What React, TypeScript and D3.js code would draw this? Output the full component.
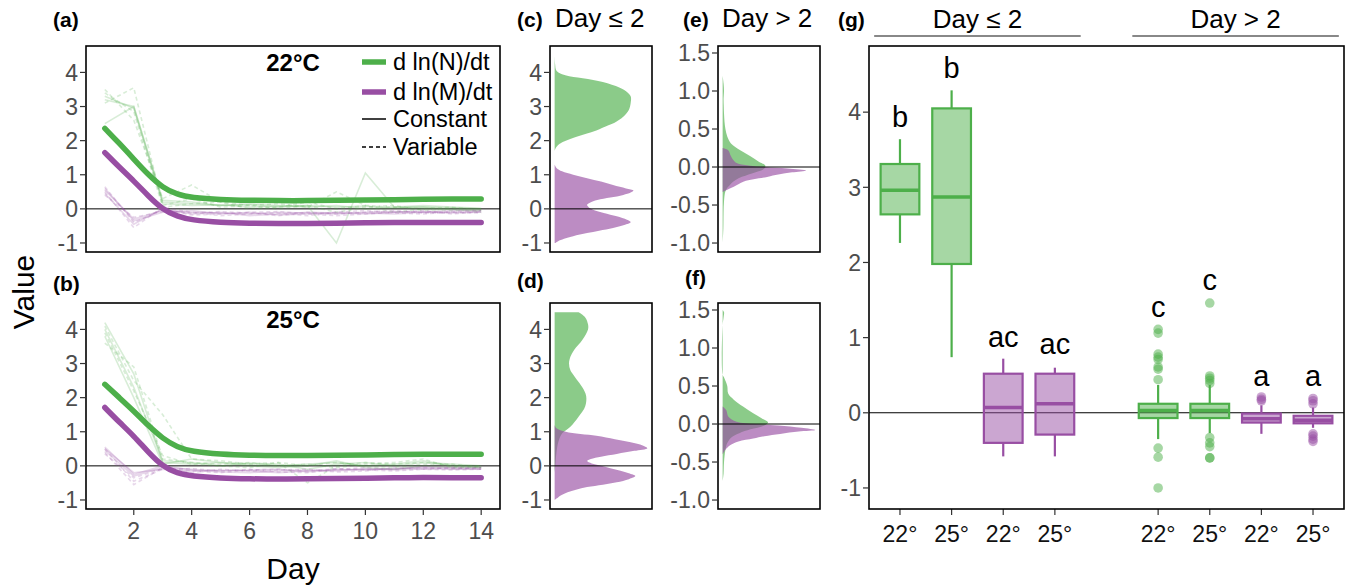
import React from 'react';
import * as d3 from 'd3';

// ---------------- DATA ----------------
const DAYS = [1, 2, 3, 4, 5, 6, 7, 8, 9, 10, 11, 12, 13, 14];
const SMOOTH_DAYS = [1, 1.5, 2, 2.5, 3, 3.5, 4, 5, 6, 7, 8, 9, 10, 11, 12, 13, 14];

// smooth fits
const FIT_N_22 = [2.36, 1.92, 1.46, 1.0, 0.62, 0.42, 0.33, 0.27, 0.25, 0.24, 0.24, 0.25, 0.26, 0.27, 0.28, 0.29, 0.29];
const FIT_M_22 = [1.65, 1.22, 0.82, 0.38, -0.02, -0.22, -0.33, -0.4, -0.42, -0.43, -0.43, -0.42, -0.41, -0.4, -0.4, -0.4, -0.4];
const FIT_N_25 = [2.39, 2.0, 1.61, 1.18, 0.8, 0.55, 0.42, 0.34, 0.31, 0.3, 0.3, 0.31, 0.32, 0.33, 0.34, 0.34, 0.34];
const FIT_M_25 = [1.71, 1.28, 0.88, 0.4, -0.02, -0.22, -0.3, -0.36, -0.38, -0.39, -0.38, -0.37, -0.36, -0.35, -0.34, -0.35, -0.35];

// individual replicate lines (days 1..14)
const N22_LINES = [
  [3.3, 2.95, 0.15, 0.1, 0.12, 0.05, 0.08, 0.1, 0.05, 0.08, 0.02, 0.05, 0.03, 0.0],
  [3.2, 3.0, 0.2, 0.15, 0.1, 0.12, 0.05, 0.1, -1.0, 1.05, 0.05, 0.05, -0.02, -0.05],
  [2.5, 3.0, 0.25, 0.2, 0.1, 0.15, 0.1, 0.05, 0.1, 0.0, 0.05, 0.1, 0.05, 0.02],
  [3.5, 2.6, 0.3, 0.7, 0.2, 0.1, 0.15, 0.05, 0.5, 0.1, 0.05, 0.0, -0.05, -0.02],
  [3.1, 3.55, 0.1, 0.3, 0.05, 0.1, 0.0, 0.1, -0.1, 0.05, 0.1, -0.05, 0.0, -0.1],
  [3.4, 2.85, 0.05, 0.15, 0.2, 0.0, 0.05, 0.2, 0.0, 0.1, -0.1, 0.0, 0.05, -0.05],
];
const M22_LINES = [
  [0.55, -0.3, -0.05, -0.1, -0.12, -0.15, -0.1, -0.12, -0.15, -0.1, -0.08, -0.1, -0.05, -0.05],
  [0.45, -0.45, 0.0, -0.15, -0.1, -0.2, -0.15, -0.1, -0.12, -0.15, -0.1, -0.08, -0.1, -0.08],
  [0.6, -0.35, -0.1, -0.05, -0.15, -0.1, -0.18, -0.15, -0.1, -0.12, -0.15, -0.1, -0.12, -0.1],
  [0.5, -0.55, 0.05, -0.1, -0.2, -0.15, -0.12, -0.2, -0.1, -0.05, -0.12, -0.15, -0.08, -0.05],
  [0.4, -0.25, -0.08, -0.12, -0.08, -0.12, -0.2, -0.1, -0.15, -0.1, -0.05, -0.12, -0.1, -0.12],
  [0.65, -0.4, -0.02, -0.18, -0.15, -0.1, -0.08, -0.15, -0.2, -0.15, -0.1, -0.05, -0.15, -0.08],
];
const N25_LINES = [
  [4.2, 2.7, 0.1, 0.05, 0.1, 0.05, 0.0, 0.05, 0.1, 0.0, 0.05, 0.15, 0.0, -0.05],
  [4.0, 2.3, 0.15, 0.1, 0.0, 0.08, 0.05, -0.1, 0.05, 0.1, 0.0, 0.1, 0.05, 0.0],
  [3.8, 2.0, 0.05, 0.2, 0.1, 0.0, -0.05, 0.0, 0.15, -0.05, -0.1, 0.0, -0.05, -0.05],
  [4.1, 2.5, 1.5, 0.2, 0.15, 0.05, 0.1, -0.5, 0.0, 0.1, 0.05, 0.1, 0.0, 0.0],
  [3.6, 2.9, 0.2, 0.1, 0.05, 0.1, 0.0, 0.05, -0.05, 0.05, 0.1, 0.2, -0.05, -0.02],
  [3.9, 2.2, 0.3, 0.05, 0.0, -0.05, 0.1, 0.0, 0.1, 0.0, -0.05, 0.05, 0.05, -0.05],
];
const M25_LINES = [
  [0.5, -0.2, -0.1, -0.15, -0.12, -0.15, -0.2, -0.15, -0.1, -0.12, -0.08, -0.05, -0.08, -0.1],
  [0.45, -0.3, -0.05, -0.1, -0.15, -0.12, -0.1, -0.18, -0.12, -0.1, -0.1, -0.02, -0.05, -0.05],
  [0.55, -0.25, 0.0, -0.12, -0.18, -0.2, -0.15, -0.12, -0.15, -0.08, -0.12, -0.08, -0.1, -0.08],
  [0.4, -0.55, -0.05, -0.2, -0.1, -0.15, -0.12, -0.1, -0.18, -0.15, -0.05, -0.1, -0.12, -0.1],
  [0.5, -0.45, -0.1, -0.08, -0.15, -0.1, -0.18, -0.2, -0.1, -0.05, -0.1, -0.05, -0.08, -0.05],
  [0.35, -0.35, -0.08, -0.15, -0.2, -0.12, -0.1, -0.15, -0.08, -0.12, -0.15, -0.1, -0.05, -0.1],
];
const LINE_DASHED = [false, false, false, true, true, true];

// densities: [value, relative density]
const DENS_C_N = [[4.5, 0], [4.25, 0.005], [4.05, 0.02], [3.95, 0.08], [3.85, 0.25], [3.75, 0.47], [3.6, 0.66], [3.45, 0.77], [3.3, 0.82], [3.1, 0.82], [2.9, 0.8], [2.7, 0.74], [2.55, 0.66], [2.45, 0.58], [2.3, 0.45], [2.2, 0.34], [2.1, 0.22], [2.0, 0.12], [1.9, 0.05], [1.8, 0.015], [1.7, 0]];
const DENS_C_M = [[1.3, 0], [1.2, 0.02], [1.1, 0.08], [1.0, 0.2], [0.9, 0.35], [0.8, 0.5], [0.7, 0.63], [0.6, 0.77], [0.54, 0.85], [0.48, 0.82], [0.41, 0.74], [0.33, 0.6], [0.26, 0.46], [0.18, 0.38], [0.12, 0.35], [0.04, 0.37], [-0.03, 0.42], [-0.12, 0.53], [-0.22, 0.67], [-0.32, 0.78], [-0.39, 0.82], [-0.47, 0.75], [-0.56, 0.63], [-0.64, 0.48], [-0.71, 0.35], [-0.8, 0.2], [-0.86, 0.12], [-0.93, 0.05], [-1.0, 0.01]];
const DENS_D_N = [[4.5, 0.26], [4.35, 0.33], [4.15, 0.36], [4.0, 0.36], [3.7, 0.3], [3.4, 0.21], [3.2, 0.17], [3.0, 0.155], [2.8, 0.17], [2.6, 0.22], [2.3, 0.3], [2.05, 0.34], [1.75, 0.33], [1.45, 0.26], [1.15, 0.17], [0.95, 0.08], [0.7, 0.04], [0.4, 0.02], [0.1, 0.01], [-0.2, 0]];
const DENS_D_M = [[1.2, 0], [1.1, 0.02], [1.0, 0.12], [0.88, 0.45], [0.78, 0.65], [0.69, 0.82], [0.6, 0.95], [0.52, 1.0], [0.44, 0.86], [0.35, 0.67], [0.27, 0.5], [0.2, 0.39], [0.14, 0.35], [0.07, 0.4], [0.01, 0.49], [-0.07, 0.6], [-0.14, 0.71], [-0.22, 0.8], [-0.3, 0.87], [-0.39, 0.8], [-0.48, 0.67], [-0.55, 0.52], [-0.62, 0.35], [-0.7, 0.23], [-0.77, 0.14], [-0.86, 0.07], [-0.96, 0.02], [-1.0, 0]];
const DENS_E_N = [[1.2, 0], [1.1, 0.01], [1.0, 0.015], [0.9, 0.01], [0.8, 0.012], [0.7, 0.015], [0.6, 0.02], [0.5, 0.03], [0.4, 0.05], [0.31, 0.09], [0.22, 0.19], [0.14, 0.3], [0.07, 0.39], [0.02, 0.46], [-0.02, 0.45], [-0.06, 0.38], [-0.1, 0.28], [-0.17, 0.14], [-0.26, 0.06], [-0.32, 0.03], [-0.45, 0.015], [-0.6, 0.01], [-0.8, 0.008], [-1.0, 0]];
const DENS_E_M = [[0.25, 0], [0.22, 0.06], [0.14, 0.09], [0.06, 0.14], [0.02, 0.28], [0.0, 0.45], [-0.02, 0.7], [-0.045, 0.9], [-0.07, 0.75], [-0.1, 0.6], [-0.13, 0.48], [-0.19, 0.23], [-0.26, 0.12], [-0.3, 0.05], [-0.33, 0]];
const DENS_F_N = [[1.5, 0], [1.47, 0.015], [1.4, 0.01], [1.3, 0], [0.65, 0], [0.6, 0.02], [0.5, 0.05], [0.4, 0.06], [0.32, 0.12], [0.23, 0.22], [0.14, 0.33], [0.075, 0.42], [0.02, 0.49], [-0.02, 0.45], [-0.07, 0.3], [-0.12, 0.18], [-0.17, 0.1], [-0.25, 0.05], [-0.34, 0.03], [-0.5, 0.015], [-0.65, 0.01], [-0.75, 0]];
const DENS_F_M = [[0.23, 0], [0.18, 0.04], [0.1, 0.06], [0.03, 0.15], [0.0, 0.35], [-0.02, 0.6], [-0.05, 0.85], [-0.08, 1.0], [-0.1, 0.82], [-0.13, 0.62], [-0.16, 0.45], [-0.19, 0.33], [-0.23, 0.17], [-0.28, 0.08], [-0.34, 0.03], [-0.4, 0]];

// box plots (panel g)
const BOX_POS = [1, 2, 3, 4, 6, 7, 8, 9];
const BOX_GROUP = ['N', 'N', 'M', 'M', 'N', 'N', 'M', 'M'];
const BOX_LOW = [2.26, 0.74, -0.58, -0.58, -0.35, -0.27, -0.28, -0.2];
const BOX_Q1 = [2.64, 1.98, -0.4, -0.29, -0.07, -0.07, -0.13, -0.14];
const BOX_MED = [2.96, 2.87, 0.07, 0.12, 0.03, 0.03, -0.08, -0.1];
const BOX_Q3 = [3.31, 4.05, 0.52, 0.52, 0.12, 0.12, -0.01, -0.04];
const BOX_HIGH = [3.64, 4.29, 0.72, 0.6, 0.37, 0.37, 0.1, 0.07];
const BOX_LETTER = ['b', 'b', 'ac', 'ac', 'c', 'c', 'a', 'a'];
const BOX_LETTER_Y = [3.8, 4.46, 0.88, 0.78, 1.27, 1.63, 0.35, 0.35];
const BOX_XLABEL = ['22°', '25°', '22°', '25°', '22°', '25°', '22°', '25°'];
const OUTLIER_POS = [6, 6, 6, 6, 6, 6, 6, 6, 6, 6, 6, 7, 7, 7, 7, 7, 7, 7, 7, 7, 7, 8, 8, 8, 9, 9, 9, 9, 9, 9, 9];
const OUTLIER_VAL = [1.11, 1.06, 0.78, 0.74, 0.71, 0.61, 0.58, 0.44, -0.47, -0.59, -1.0, 1.46, 0.49, 0.46, 0.43, 0.39, -0.33, -0.4, -0.45, -0.6, -0.6, 0.21, 0.18, 0.16, 0.19, 0.16, 0.12, -0.28, -0.31, -0.35, -0.38];
const OUTLIER_GROUP = OUTLIER_POS.map((p) => (p <= 7 ? 'N' : 'M'));

const Y_TICKS_AB = [-1, 0, 1, 2, 3, 4];
const X_TICKS_DAY = [2, 4, 6, 8, 10, 12, 14];
const Y_TICKS_EF = [-1, -0.5, 0, 0.5, 1, 1.5];
const Y_TICK_LABELS_EF = ['-1.0', '-0.5', '0.0', '0.5', '1.0', '1.5'];
const Y_TICKS_G = [-1, 0, 1, 2, 3, 4];

// ---------------- STYLE ----------------
const GREEN = '#4daf4a';
const PURPLE = '#984ea3';
const FONT = 'Liberation Sans, Arial, Helvetica, sans-serif';
const TICK_COLOR = '#4d4d4d';
const TICK_FS = 23;

const PA = { x0: 86, x1: 500, y0: 46, y1: 252 };
const PB = { x0: 86, x1: 500, y0: 303, y1: 509 };
const PC = { x0: 550, x1: 652, y0: 46, y1: 252 };
const PD = { x0: 550, x1: 652, y0: 303, y1: 509 };
const PE = { x0: 718, x1: 820, y0: 46, y1: 252 };
const PF = { x0: 718, x1: 820, y0: 303, y1: 509 };
const PG = { x0: 869, x1: 1344, y0: 46, y1: 509 };

const COL: Record<string, string> = { N: GREEN, M: PURPLE };

function YAxis({ p, scale, ticks, labels }: any) {
  return (
    <g>
      {ticks.map((t: number, i: number) => (
        <g key={i}>
          <line x1={p.x0 - 6} x2={p.x0} y1={scale(t)} y2={scale(t)} stroke="#333" strokeWidth={1.2} />
          <text x={p.x0 - 8} y={scale(t)} dy="0.36em" textAnchor="end" fontSize={TICK_FS} fill={TICK_COLOR} fontFamily={FONT}>
            {labels ? labels[i] : String(t)}
          </text>
        </g>
      ))}
    </g>
  );
}

function Frame({ p }: any) {
  return <rect x={p.x0} y={p.y0} width={p.x1 - p.x0} height={p.y1 - p.y0} fill="none" stroke="#000" strokeWidth={1.6} />;
}

function TimePanel({ p, id, nLines, mLines, fitN, fitM, title }: any) {
  const x = d3.scaleLinear().domain([0.35, 14.65]).range([p.x0, p.x1]);
  const y = d3.scaleLinear().domain([-1.2645, 4.7745]).range([p.y1, p.y0]);
  const line = d3.line<number>().x((_, i) => x(DAYS[i])).y((d) => y(d));
  const smooth = d3
    .line<number>()
    .x((_, i) => x(SMOOTH_DAYS[i]))
    .y((d) => y(d))
    .curve(d3.curveBasis);
  return (
    <g>
      <defs>
        <clipPath id={id}>
          <rect x={p.x0} y={p.y0} width={p.x1 - p.x0} height={p.y1 - p.y0} />
        </clipPath>
      </defs>
      <g clipPath={`url(#${id})`}>
        <line x1={p.x0} x2={p.x1} y1={y(0)} y2={y(0)} stroke="#000" strokeWidth={1} />
        {nLines.map((l: number[], i: number) => (
          <path key={'n' + i} d={line(l) || ''} fill="none" stroke={GREEN} strokeOpacity={0.22} strokeWidth={1.6} strokeDasharray={LINE_DASHED[i] ? '4,3' : undefined} />
        ))}
        {mLines.map((l: number[], i: number) => (
          <path key={'m' + i} d={line(l) || ''} fill="none" stroke={PURPLE} strokeOpacity={0.22} strokeWidth={1.6} strokeDasharray={LINE_DASHED[i] ? '4,3' : undefined} />
        ))}
        <path d={smooth(fitN) || ''} fill="none" stroke={GREEN} strokeWidth={5.5} strokeLinecap="round" />
        <path d={smooth(fitM) || ''} fill="none" stroke={PURPLE} strokeWidth={5.5} strokeLinecap="round" />
      </g>
      <text x={(p.x0 + p.x1) / 2} y={p.y0 + 25} textAnchor="middle" fontSize={24} fontWeight="bold" fontFamily={FONT}>
        {title}
      </text>
      <Frame p={p} />
      <YAxis p={p} scale={y} ticks={Y_TICKS_AB} />
    </g>
  );
}

function DensPanel({ p, densN, densM, yDomain, ticks, labels }: any) {
  const y = d3.scaleLinear().domain(yDomain).range([p.y1, p.y0]);
  const x = d3.scaleLinear().domain([-0.05, 1.05]).range([p.x0, p.x1]);
  const area = d3
    .area<number[]>()
    .y((d) => y(d[0]))
    .x0(x(0))
    .x1((d) => x(d[1]))
    .curve(d3.curveCatmullRom.alpha(0.5));
  return (
    <g>
      <path d={area(densN) || ''} fill={GREEN} fillOpacity={0.65} />
      <path d={area(densM) || ''} fill={PURPLE} fillOpacity={0.65} />
      <line x1={p.x0} x2={p.x1} y1={y(0)} y2={y(0)} stroke="#000" strokeWidth={1} />
      <Frame p={p} />
      <YAxis p={p} scale={y} ticks={ticks} labels={labels} />
    </g>
  );
}

function BoxPanel() {
  const p = PG;
  const x = d3.scaleLinear().domain([0.4, 9.6]).range([p.x0, p.x1]);
  const y = d3.scaleLinear().domain([-1.28, 4.88]).range([p.y1, p.y0]);
  const bw = x(0.75) - x(0);
  return (
    <g>
      <line x1={p.x0} x2={p.x1} y1={y(0)} y2={y(0)} stroke="#000" strokeWidth={1.1} />
      {BOX_POS.map((pos, i) => {
        const c = COL[BOX_GROUP[i]];
        const cx = x(pos);
        return (
          <g key={i}>
            <line x1={cx} x2={cx} y1={y(BOX_HIGH[i])} y2={y(BOX_Q3[i])} stroke={c} strokeWidth={2.2} />
            <line x1={cx} x2={cx} y1={y(BOX_Q1[i])} y2={y(BOX_LOW[i])} stroke={c} strokeWidth={2.2} />
            <rect x={cx - bw / 2} y={y(BOX_Q3[i])} width={bw} height={y(BOX_Q1[i]) - y(BOX_Q3[i])} fill={c} fillOpacity={0.5} stroke={c} strokeWidth={2.2} />
            <line x1={cx - bw / 2} x2={cx + bw / 2} y1={y(BOX_MED[i])} y2={y(BOX_MED[i])} stroke={c} strokeWidth={3.5} />
            <text x={cx} y={y(BOX_LETTER_Y[i])} textAnchor="middle" fontSize={29} fontFamily={FONT}>
              {BOX_LETTER[i]}
            </text>
            <line x1={cx} x2={cx} y1={p.y1} y2={p.y1 + 6} stroke="#333" strokeWidth={1.2} />
            <text x={cx} y={p.y1 + 33} textAnchor="middle" fontSize={TICK_FS} fill="#111" fontFamily={FONT}>
              {BOX_XLABEL[i]}
            </text>
          </g>
        );
      })}
      {OUTLIER_POS.map((pos, i) => (
        <circle key={'o' + i} cx={x(pos)} cy={y(OUTLIER_VAL[i])} r={4.8} fill={COL[OUTLIER_GROUP[i]]} fillOpacity={0.5} />
      ))}
      <Frame p={p} />
      <YAxis p={p} scale={y} ticks={Y_TICKS_G} />
      <line x1={x(0.5)} x2={x(4.5)} y1={36} y2={36} stroke="#888" strokeWidth={2} />
      <line x1={x(5.5)} x2={x(9.5)} y1={36} y2={36} stroke="#888" strokeWidth={2} />
      <text x={x(2.5)} y={28} textAnchor="middle" fontSize={26} fontFamily={FONT}>Day ≤ 2</text>
      <text x={x(7.5)} y={28} textAnchor="middle" fontSize={26} fontFamily={FONT}>Day &gt; 2</text>
    </g>
  );
}

export default function App() {
  const xB = d3.scaleLinear().domain([0.35, 14.65]).range([PB.x0, PB.x1]);
  return (
    <svg width={1349} height={585} style={{ position: 'absolute', left: 0, top: 0, background: '#fff' }} fontFamily={FONT}>
      <rect x={0} y={0} width={1349} height={585} fill="#fff" />
      <TimePanel p={PA} id="clipA" nLines={N22_LINES} mLines={M22_LINES} fitN={FIT_N_22} fitM={FIT_M_22} title="22°C" />
      <TimePanel p={PB} id="clipB" nLines={N25_LINES} mLines={M25_LINES} fitN={FIT_N_25} fitM={FIT_M_25} title="25°C" />
      {X_TICKS_DAY.map((t) => (
        <g key={t}>
          <line x1={xB(t)} x2={xB(t)} y1={PB.y1} y2={PB.y1 + 6} stroke="#333" strokeWidth={1.2} />
          <text x={xB(t)} y={PB.y1 + 30} textAnchor="middle" fontSize={TICK_FS} fill={TICK_COLOR}>{t}</text>
        </g>
      ))}
      <text x={(PB.x0 + PB.x1) / 2} y={579} textAnchor="middle" fontSize={30}>Day</text>
      <text transform="translate(34,292) rotate(-90)" textAnchor="middle" fontSize={30}>Value</text>

      {/* legend */}
      <g>
        <line x1={362} x2={386} y1={62} y2={62} stroke={GREEN} strokeWidth={5.5} />
        <text x={393} y={70} fontSize={23.5}>d ln(N)/dt</text>
        <line x1={362} x2={386} y1={92} y2={92} stroke={PURPLE} strokeWidth={5.5} />
        <text x={393} y={100} fontSize={23.5}>d ln(M)/dt</text>
        <line x1={362} x2={386} y1={119} y2={119} stroke="#000" strokeWidth={1.5} />
        <text x={393} y={127} fontSize={23.5}>Constant</text>
        <line x1={362} x2={386} y1={147} y2={147} stroke="#000" strokeWidth={1.5} strokeDasharray="4,3" />
        <text x={393} y={155} fontSize={23.5}>Variable</text>
      </g>

      <DensPanel p={PC} densN={DENS_C_N} densM={DENS_C_M} yDomain={[-1.2645, 4.7745]} ticks={Y_TICKS_AB} />
      <DensPanel p={PD} densN={DENS_D_N} densM={DENS_D_M} yDomain={[-1.2645, 4.7745]} ticks={Y_TICKS_AB} />
      <DensPanel p={PE} densN={DENS_E_N} densM={DENS_E_M} yDomain={[-1.118, 1.592]} ticks={Y_TICKS_EF} labels={Y_TICK_LABELS_EF} />
      <DensPanel p={PF} densN={DENS_F_N} densM={DENS_F_M} yDomain={[-1.118, 1.592]} ticks={Y_TICKS_EF} labels={Y_TICK_LABELS_EF} />
      <BoxPanel />

      {/* panel letters and titles */}
      <text x={53} y={27} fontSize={21} fontWeight="bold">(a)</text>
      <text x={53} y={291} fontSize={21} fontWeight="bold">(b)</text>
      <text x={517} y={27} fontSize={21} fontWeight="bold">(c)</text>
      <text x={555} y={27} fontSize={26}>Day ≤ 2</text>
      <text x={517} y={288} fontSize={21} fontWeight="bold">(d)</text>
      <text x={683} y={27} fontSize={21} fontWeight="bold">(e)</text>
      <text x={722} y={27} fontSize={26}>Day &gt; 2</text>
      <text x={685} y={285} fontSize={21} fontWeight="bold">(f)</text>
      <text x={838} y={27} fontSize={21} fontWeight="bold">(g)</text>
    </svg>
  );
}
